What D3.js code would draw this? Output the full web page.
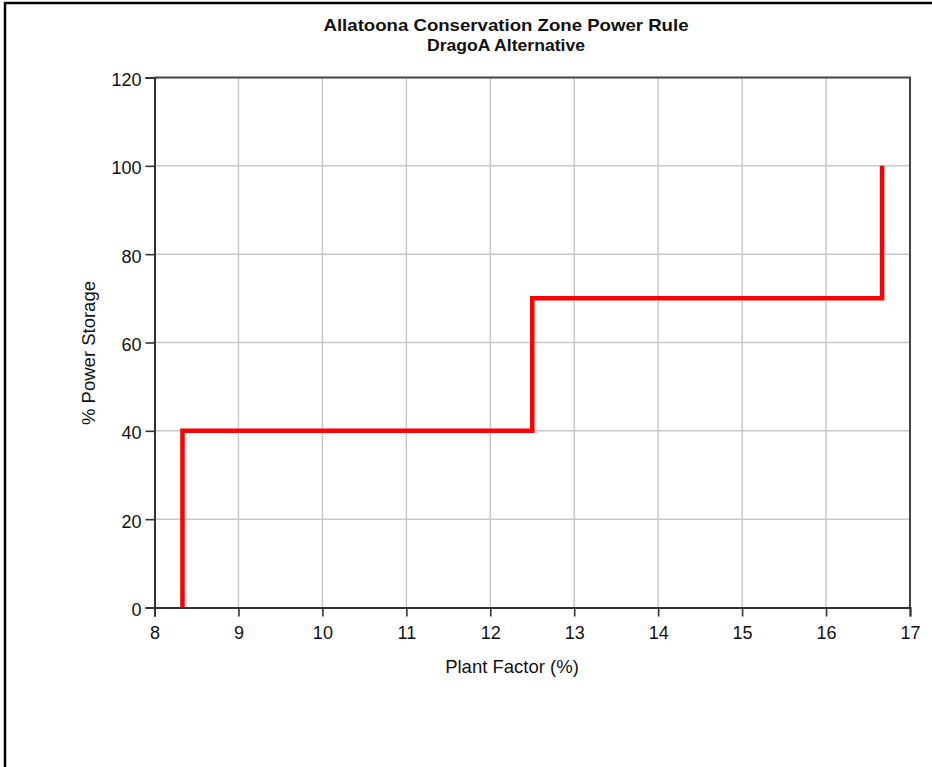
<!DOCTYPE html>
<html>
<head>
<meta charset="utf-8">
<script src="https://cdn.jsdelivr.net/npm/d3@7"></script>
<style>
  html, body { margin: 0; padding: 0; background: #fff; }
  svg { display: block; font-family: "Liberation Sans", Arial, sans-serif; }
</style>
</head>
<body>
<svg id="chart" width="932" height="767"></svg>
<script>
// Conservation zone power rule: step curve of storage vs plant factor
const plantFactor = [8.333, 8.333, 12.5, 12.5, 16.667, 16.667];
const powerStorage = [0, 40, 40, 70, 70, 100];
const xTicks = [8, 9, 10, 11, 12, 13, 14, 15, 16, 17];
const yTicks = [0, 20, 40, 60, 80, 100, 120];
const titleLines = ["Allatoona Conservation Zone Power Rule", "DragoA Alternative"];
const xLabel = "Plant Factor (%)";
const yLabel = "% Power Storage";

const svg = d3.select("#chart");
const W = 932, H = 767;
const plot = { left: 154.5, right: 910, top: 77.5, bottom: 607.5 };

// outer frame (only top and left edges fall inside the view)
svg.append("rect")
  .attr("x", 5).attr("y", 3)
  .attr("width", W + 20).attr("height", H + 20)
  .attr("fill", "none").attr("stroke", "#000").attr("stroke-width", 2.5);

const x = d3.scaleLinear().domain([8, 17]).range([plot.left, plot.right]);
const y = d3.scaleLinear().domain([0, 120]).range([plot.bottom, plot.top]);

// gridlines
const grid = svg.append("g").attr("stroke", "#c8c8c8").attr("stroke-width", 1.5);
grid.selectAll("line.v").data(xTicks.slice(1, -1)).join("line")
  .attr("x1", d => x(d)).attr("x2", d => x(d))
  .attr("y1", plot.top).attr("y2", plot.bottom);
grid.selectAll("line.h").data(yTicks.slice(1, -1)).join("line")
  .attr("x1", plot.left).attr("x2", plot.right)
  .attr("y1", d => y(d)).attr("y2", d => y(d));

// plot frame top and right
svg.append("path")
  .attr("d", `M${plot.left},${plot.top}H${plot.right}V${plot.bottom}`)
  .attr("fill", "none").attr("stroke", "#444").attr("stroke-width", 2);

// axes
const xAxis = svg.append("g")
  .attr("transform", `translate(0,${plot.bottom})`)
  .call(d3.axisBottom(x).tickValues(xTicks).tickFormat(d3.format("d")).tickSize(9).tickPadding(10));
const yAxis = svg.append("g")
  .attr("transform", `translate(${plot.left},0)`)
  .call(d3.axisLeft(y).tickValues(yTicks).tickFormat(d3.format("d")).tickSize(9).tickPadding(4));

[xAxis, yAxis].forEach(g => {
  g.select(".domain").attr("stroke", "#333").attr("stroke-width", 2);
  g.selectAll(".tick line").attr("stroke", "#333").attr("stroke-width", 1.6);
  g.selectAll(".tick text").attr("fill", "#111").attr("font-size", 18)
    .attr("font-family", "'Liberation Sans', Arial, sans-serif");
});
yAxis.selectAll(".tick text").attr("dy", "0.45em");

// step curve
const pts = plantFactor.map((v, i) => [v, powerStorage[i]]);
svg.append("path")
  .datum(pts)
  .attr("d", d3.line().x(d => x(d[0])).y(d => y(d[1])))
  .attr("fill", "none")
  .attr("stroke", "#ff0000")
  .attr("stroke-width", 4.5)
  .attr("stroke-linejoin", "miter");

// titles: two bold lines, stretched slightly to their set widths
const titleWidths = [365, 158];
svg.append("g").selectAll("text").data(titleLines).join("text")
  .attr("x", 506).attr("y", (d, i) => 31 + i * 19.5)
  .attr("text-anchor", "middle")
  .attr("font-size", 17).attr("font-weight", "bold").attr("fill", "#111")
  .attr("textLength", (d, i) => titleWidths[i])
  .attr("lengthAdjust", "spacingAndGlyphs")
  .text(d => d);

// axis labels
svg.append("text")
  .attr("x", 512).attr("y", 673)
  .attr("text-anchor", "middle").attr("font-size", 18.5).attr("fill", "#111")
  .text(xLabel);
svg.append("text")
  .attr("transform", "translate(95,353) rotate(-90)")
  .attr("text-anchor", "middle").attr("font-size", 18.5).attr("fill", "#111")
  .text(yLabel);
</script>
</body>
</html>
